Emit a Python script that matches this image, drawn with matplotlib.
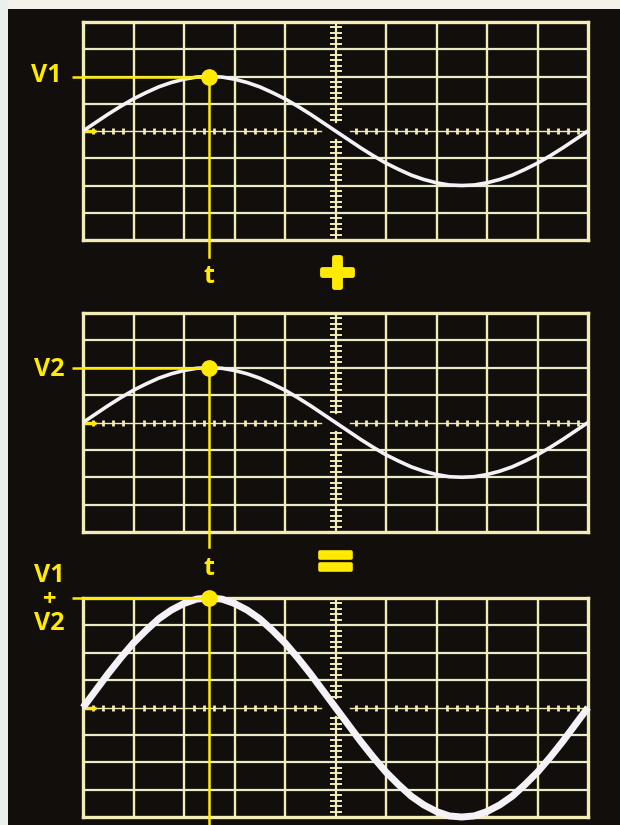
import matplotlib
matplotlib.use("Agg")
import matplotlib.pyplot as plt
import matplotlib.patheffects as pe
from matplotlib.patches import Rectangle

# time axis in screen divisions (0.25 div steps), values in vertical divisions
t = [i * 0.25 for i in range(41)]
v1 = [0.00, 0.31, 0.62, 0.91, 1.18, 1.41, 1.62, 1.78, 1.90, 1.98,
      2.00, 1.98, 1.90, 1.78, 1.62, 1.41, 1.18, 0.91, 0.62, 0.31,
      0.00, -0.31, -0.62, -0.91, -1.18, -1.41, -1.62, -1.78, -1.90, -1.98,
      -2.00, -1.98, -1.90, -1.78, -1.62, -1.41, -1.18, -0.91, -0.62, -0.31,
      0.00]
v2 = list(v1)
v_sum = [a + b for a, b in zip(v1, v2)]

t_mark = 2.5
panels = [
    {"values": v1, "lw": 2.6},
    {"values": v2, "lw": 2.6},
    {"values": v_sum, "lw": 5.0},
]

BG = "#120e0b"
GRID_V = "#f2ecb6"
GRID_H = "#e9ecc9"
YELLOW = "#ffea00"
TRACE = "#f4f2f6"
FONT = "Open Sans"

fig = plt.figure(figsize=(6.2, 8.25), dpi=100, facecolor=BG)
# pale paper edges at top and left
fig.patches.append(Rectangle((0, 1 - 9 / 825), 1, 9 / 825, transform=fig.transFigure,
                             facecolor="#f3f1ea", edgecolor="none", zorder=0))
fig.patches.append(Rectangle((0, 0), 8 / 620, 1, transform=fig.transFigure,
                             facecolor="#e9f1ef", edgecolor="none", zorder=0))

boxes = [(83, 22, 240), (83, 313, 532), (83, 598, 817)]
axes = []
for (x0, top, bot) in boxes:
    ax = fig.add_axes([x0 / 620, 1 - bot / 825, 505 / 620, (bot - top) / 825])
    ax.set_facecolor("none")
    ax.set_xlim(0, 10)
    ax.set_ylim(-4, 4)
    ax.set_xticks([])
    ax.set_yticks([])
    for s in ax.spines.values():
        s.set_color(GRID_V)
        s.set_linewidth(2.4)
    axes.append(ax)

for ax, p in zip(axes, panels):
    # graticule
    for x in range(1, 10):
        if x != 5:
            ax.axvline(x, color=GRID_V, lw=1.7, zorder=1)
    for y in range(-3, 4):
        if y != 0:
            ax.axhline(y, color=GRID_H, lw=1.6, zorder=1)
    # centre lines with minor ticks, broken at the origin
    ax.plot([0, 4.72], [0, 0], color=GRID_V, lw=1.0, zorder=1)
    ax.plot([5.28, 10], [0, 0], color=GRID_V, lw=1.0, zorder=1)
    ax.plot([5, 5], [0.33, 4], color=GRID_V, lw=1.6, zorder=1)
    ax.plot([5, 5], [-4, -0.33], color=GRID_V, lw=1.6, zorder=1)
    xt = [k * 0.2 for k in range(1, 50) if k % 5 and abs(k * 0.2 - 5) > 0.3]
    ax.plot(xt, [0] * len(xt), ls="none", marker="|", ms=5, mew=2.0,
            color=GRID_V, zorder=1)
    yt = [k * 0.2 for k in range(-19, 20) if k % 5 and abs(k * 0.2) > 0.35]
    ax.plot([5] * len(yt), yt, ls="none", marker="_", ms=9, mew=1.4,
            color=GRID_V, zorder=1)
    ax.plot([0, 0.25], [0, 0], color=YELLOW, lw=2.5, zorder=2,
            solid_capstyle="butt")

    # trace
    vals = p["values"]
    ax.plot(t, vals, color=TRACE, lw=p["lw"], zorder=3, clip_on=False,
            solid_capstyle="butt")

    # yellow markers at time t
    peak = vals[t.index(t_mark)]
    ax.plot([-0.22, t_mark], [peak, peak], color=YELLOW, lw=1.8, zorder=4,
            clip_on=False, solid_capstyle="butt")
    ax.plot(t_mark, peak, "o", ms=11, color=YELLOW, zorder=5, clip_on=False)

axes[0].plot([t_mark, t_mark], [2.0, -4.62], color=YELLOW, lw=1.8, zorder=4,
             clip_on=False)
axes[1].plot([t_mark, t_mark], [2.0, -4.55], color=YELLOW, lw=1.8, zorder=4,
             clip_on=False)
axes[2].plot([t_mark, t_mark], [4.0, -4.5], color=YELLOW, lw=1.8, zorder=4,
             clip_on=False)

lab = dict(color=YELLOW, family=FONT, weight="bold", fontsize=18,
           clip_on=False)
axes[0].text(-0.42, 1.8, "V1", ha="right", va="baseline", **lab)
axes[1].text(-0.37, 1.69, "V2", ha="right", va="baseline", **lab)
axes[2].text(-0.37, 4.58, "V1", ha="right", va="baseline", **lab)
axes[2].text(-0.65, 3.92, "+", ha="center", va="center", color=YELLOW,
             family=FONT, weight="bold", fontsize=17)
axes[2].text(-0.37, 2.82, "V2", ha="right", va="baseline", **lab)
axes[0].text(t_mark, -5.57, "t", ha="center", va="baseline", **lab)
axes[1].text(t_mark, -5.57, "t", ha="center", va="baseline", **lab)

fig.text(337 / 620, 1 - 278 / 825, "+", ha="center", va="center",
         color=YELLOW, family=FONT, weight="bold", fontsize=44,
         path_effects=[pe.withStroke(linewidth=3.5, foreground=YELLOW)])
fig.text(336 / 620, 1 - 567 / 825, "=", ha="center", va="center",
         color=YELLOW, family=FONT, weight="bold", fontsize=46,
         path_effects=[pe.withStroke(linewidth=2.6, foreground=YELLOW)])

fig.savefig("out.png", dpi=100, facecolor=BG)
